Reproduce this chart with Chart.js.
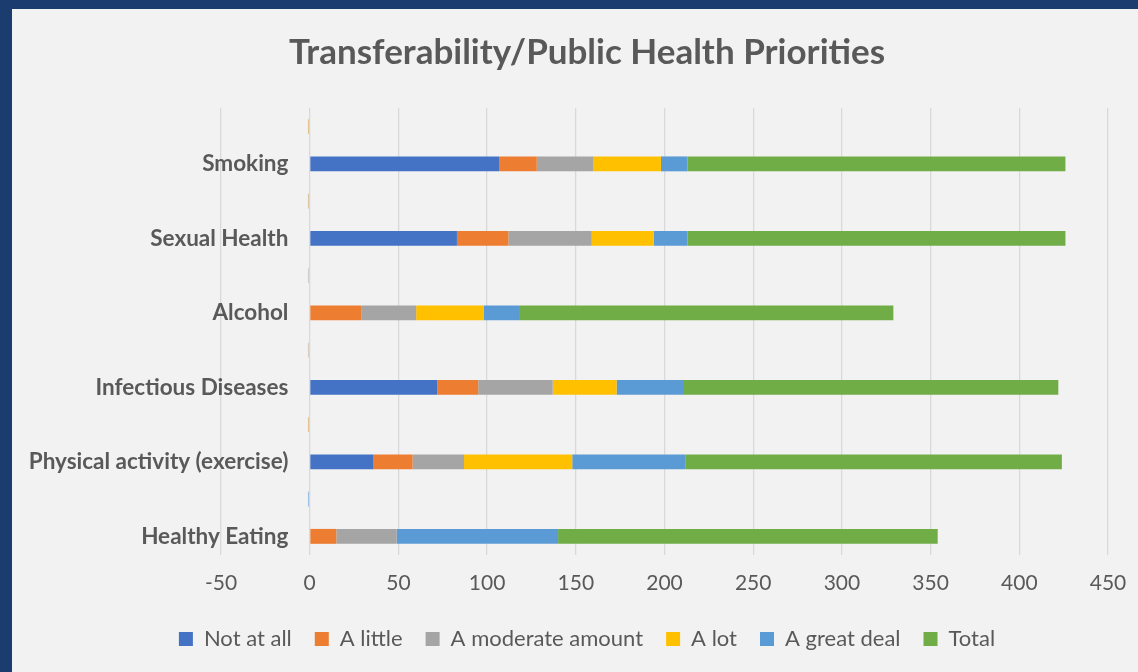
<!DOCTYPE html>
<html>
<head>
<meta charset="utf-8">
<title>Transferability/Public Health Priorities</title>
<script src="https://cdn.jsdelivr.net/npm/chart.js@4.4.1/dist/chart.umd.min.js"></script>
<style>
    html, body {
        margin: 0;
        padding: 0;
        background: #1b3c6e;
        overflow: hidden;
    }
    #frame {
        position: absolute;
        left: 12px;
        top: 9px;
        width: 1126px;
        height: 663px;
        background: #f2f2f2;
    }
</style>
</head>
<body>
<div id="frame">
    <canvas id="priorityChart" width="1126" height="663"></canvas>
</div>

<script>
/* =====================================
   Chart data
===================================== */
const categories = [
    "Smoking",
    "Sexual Health",
    "Alcohol",
    "Infectious Diseases",
    "Physical activity (exercise)",
    "Healthy Eating"
];

const notAtAll     = [107, 83, 0, 72, 36, 0];
const aLittle      = [21, 29, 29, 23, 22, 15];
const moderate     = [32, 47, 31, 42, 29, 34];
const aLot         = [38, 35, 38, 36, 61, 0];
const greatDeal    = [15, 19, 20, 38, 64, 91];
const total        = [213, 213, 211, 211, 212, 214];

// second (nearly empty) group that sits above each main bar
const otherGroup   = [-1, -1, -1, -1, -1, -1];
const otherColours = ["#e3c594", "#dcc6a6", "#d0d0d0", "#d8cfc2", "#e3c594", "#9fc2e6"];

const xTicks = [-50, 0, 50, 100, 150, 200, 250, 300, 350, 400, 450];


/* =====================================
   Common styles
===================================== */
const textColour = "#595959";
const fontName = "Lato";

function barSet(label, data, colour) {
    return {
        label: label,
        data: data,
        backgroundColor: colour,
        stack: "main",
        categoryPercentage: 1.0,
        barPercentage: 0.4
    };
}


/* =====================================
   Build the chart
===================================== */
const ctx = document.getElementById("priorityChart");

new Chart(ctx, {
    type: "bar",
    data: {
        labels: categories,
        datasets: [
            {
                label: "Other",
                data: otherGroup,
                backgroundColor: otherColours,
                stack: "other",
                categoryPercentage: 1.0,
                barPercentage: 0.4
            },
            barSet("Not at all", notAtAll, "#4472c4"),
            barSet("A little", aLittle, "#ed7d31"),
            barSet("A moderate amount", moderate, "#a5a5a5"),
            barSet("A lot", aLot, "#ffc000"),
            barSet("A great deal", greatDeal, "#5b9bd5"),
            barSet("Total", total, "#70ad47")
        ]
    },
    options: {
        indexAxis: "y",
        responsive: false,
        animation: false,
        layout: {
            padding: { left: 24, right: 0, top: 0, bottom: 12 }
        },
        scales: {
            x: {
                type: "linear",
                min: xTicks[0],
                max: xTicks[xTicks.length - 1],
                afterBuildTicks: function (scale) {
                    scale.ticks = xTicks.map(v => ({ value: v }));
                },
                afterFit: function (scale) { scale.height = 50; },
                grid: {
                    color: "#d9d9d9",
                    lineWidth: 1.3,
                    drawTicks: true,
                    tickLength: 16,
                    tickColor: "rgba(0,0,0,0)"
                },
                border: { display: false },
                ticks: {
                    color: textColour,
                    padding: 0,
                    font: { family: fontName, size: 21 }
                }
            },
            y: {
                type: "category",
                stacked: true,
                position: { x: -12 },
                grid: { display: false },
                border: { display: false },
                ticks: {
                    color: textColour,
                    labelOffset: 18.6,
                    font: { family: fontName, size: 22.5, weight: "bold" }
                }
            },
            // empty side axes that just hold the plot area in place
            yLeftSpace: {
                type: "category",
                position: "left",
                labels: categories,
                grid: { display: false },
                border: { display: false },
                ticks: { display: false },
                afterFit: function (scale) { scale.width = 185; }
            },
            yRightSpace: {
                type: "category",
                position: "right",
                labels: categories,
                grid: { display: false },
                border: { display: false },
                ticks: { display: false },
                afterFit: function (scale) { scale.width = 30; }
            }
        },
        plugins: {
            title: {
                display: true,
                text: "Transferability/Public Health Priorities",
                color: textColour,
                font: { family: fontName, size: 35, weight: "bold" },
                padding: { top: 23, bottom: 34 }
            },
            legend: {
                position: "bottom",
                labels: {
                    color: textColour,
                    font: { family: fontName, size: 22 },
                    boxWidth: 14,
                    boxHeight: 14,
                    padding: 23,
                    filter: function (item) {
                        return item.datasetIndex !== 0;
                    }
                }
            },
            tooltip: { enabled: false }
        }
    }
});
</script>
</body>
</html>
